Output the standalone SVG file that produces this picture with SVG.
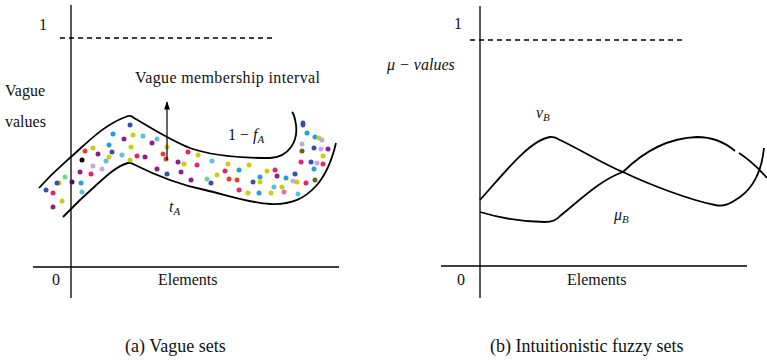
<svg xmlns="http://www.w3.org/2000/svg" width="767" height="363" viewBox="0 0 767 363" font-family="'Liberation Serif', 'DejaVu Serif', serif">
<style>
text{font-family:'Liberation Serif','DejaVu Serif',serif;fill:#111}
.t{font-size:16px}
.cap{font-size:18px}
.it{font-style:italic}
.ax{stroke:#000;stroke-width:1.3;fill:none}
.dash{stroke:#000;stroke-width:1.3;stroke-dasharray:5,4;fill:none}
.cv{stroke:#000;stroke-width:1.8;fill:none}
.b{fill:#3b4fa8}.c{fill:#1ea0d8}.y{fill:#cccc10}.l{fill:#5bc2e0}.p{fill:#8e1e8e}.r{fill:#e8402c}.m{fill:#e6246e}.k{fill:#000}.v{fill:#c3a8e0}.g{fill:#6ed490}.d{fill:#4a1050}.o{fill:#666614}.pk{fill:#e070a0}
</style>
<defs>
<marker id="ah" viewBox="0 0 10 10" refX="9" refY="5" markerWidth="7" markerHeight="7" orient="auto"><path d="M0,1.5 L10,5 L0,8.5 Z" fill="#000"/></marker>
</defs>

<g id="panel-a">
<g id="axes-a">
<line class="ax" x1="71" y1="5" x2="71" y2="298"/>
<line class="ax" x1="33" y1="267" x2="339" y2="267"/>
<line class="dash" x1="60" y1="38" x2="272" y2="38"/>
</g>
<g id="band">
<path class="cv" d="M39,188 C55,170 62,165 72,156 C90,140 105,124 128,116 C130,115.5 132,116 134,118 C155,130 170,140 190,148 C215,157 245,158 270,158 C290,157 298,140 296,125 C295,118 294,114 292,112"/>
<path class="cv" d="M63,217 C70,210 75,205 80,200 C100,182 115,166 128,163 C130,162.5 132,163 134,164.5 C155,175 180,185 205,190 C230,196 250,203 270,204 C292,205 305,198 316,186 C326,175 332,160 336,143"/>
</g>
<g id="dots">
<circle class="b" cx="130" cy="125" r="2.5"/>
<circle class="c" cx="113" cy="134" r="2.5"/>
<circle class="y" cx="133" cy="135" r="2.5"/>
<circle class="l" cx="143" cy="136" r="2.5"/>
<circle class="p" cx="124" cy="139" r="2.5"/>
<circle class="l" cx="157" cy="139" r="2.5"/>
<circle class="p" cx="152" cy="143" r="2.5"/>
<circle class="y" cx="167" cy="147" r="2.5"/>
<circle class="y" cx="93" cy="148" r="2.5"/>
<circle class="r" cx="85" cy="151" r="2.5"/>
<circle class="c" cx="109" cy="145" r="2.5"/>
<circle class="y" cx="131" cy="147" r="2.5"/>
<circle class="b" cx="112" cy="152" r="2.5"/>
<circle class="l" cx="122" cy="155" r="2.5"/>
<circle class="p" cx="98" cy="154" r="2.5"/>
<circle class="r" cx="163" cy="154" r="2.5"/>
<circle class="r" cx="166" cy="159" r="2.5"/>
<circle class="m" cx="137" cy="156" r="2.5"/>
<circle class="p" cx="145" cy="157" r="2.5"/>
<circle class="k" cx="82" cy="160" r="2.5"/>
<circle class="l" cx="106" cy="161" r="2.5"/>
<circle class="y" cx="109" cy="157" r="2.5"/>
<circle class="y" cx="130" cy="160" r="2.5"/>
<circle class="v" cx="93" cy="166" r="2.5"/>
<circle class="v" cx="102" cy="169" r="2.5"/>
<circle class="p" cx="80" cy="172" r="2.5"/>
<circle class="m" cx="91" cy="174" r="2.5"/>
<circle class="g" cx="65" cy="177" r="2.5"/>
<circle class="d" cx="72" cy="182" r="2.5"/>
<circle class="y" cx="59" cy="183" r="2.5"/>
<circle class="b" cx="57" cy="183" r="2.5"/>
<circle class="c" cx="81" cy="183" r="2.5"/>
<circle class="b" cx="46" cy="190" r="2.5"/>
<circle class="m" cx="53" cy="193" r="2.5"/>
<circle class="l" cx="82" cy="192" r="2.5"/>
<circle class="y" cx="62" cy="201" r="2.5"/>
<circle class="p" cx="53" cy="207" r="2.5"/>
<circle class="p" cx="157" cy="169" r="2.5"/>
<circle class="b" cx="167" cy="174" r="2.5"/>
<circle class="p" cx="181" cy="172" r="2.5"/>
<circle class="p" cx="178" cy="162" r="2.5"/>
<circle class="y" cx="184" cy="164" r="2.5"/>
<circle class="m" cx="188" cy="152" r="2.5"/>
<circle class="y" cx="198" cy="155" r="2.5"/>
<circle class="m" cx="197" cy="165" r="2.5"/>
<circle class="p" cx="191" cy="180" r="2.5"/>
<circle class="l" cx="212" cy="161" r="2.5"/>
<circle class="g" cx="207" cy="179" r="2.5"/>
<circle class="b" cx="211" cy="183" r="2.5"/>
<circle class="y" cx="217" cy="175" r="2.5"/>
<circle class="y" cx="228" cy="164" r="2.5"/>
<circle class="m" cx="225" cy="171" r="2.5"/>
<circle class="r" cx="229" cy="179" r="2.5"/>
<circle class="r" cx="237" cy="180" r="2.5"/>
<circle class="c" cx="239" cy="170" r="2.5"/>
<circle class="y" cx="249" cy="165" r="2.5"/>
<circle class="m" cx="239" cy="190" r="2.5"/>
<circle class="y" cx="248" cy="193" r="2.5"/>
<circle class="b" cx="253" cy="182" r="2.5"/>
<circle class="c" cx="259" cy="193" r="2.5"/>
<circle class="c" cx="260" cy="177" r="2.5"/>
<circle class="y" cx="260" cy="182" r="2.5"/>
<circle class="y" cx="267" cy="171" r="2.5"/>
<circle class="m" cx="275" cy="170" r="2.5"/>
<circle class="p" cx="277" cy="176" r="2.5"/>
<circle class="l" cx="274" cy="187" r="2.5"/>
<circle class="y" cx="271" cy="193" r="2.5"/>
<circle class="y" cx="282" cy="187" r="2.5"/>
<circle class="pk" cx="284" cy="192" r="2.5"/>
<circle class="c" cx="286" cy="178" r="2.5"/>
<circle class="b" cx="295" cy="174" r="2.5"/>
<circle class="v" cx="293" cy="181" r="2.5"/>
<circle class="y" cx="297" cy="182" r="2.5"/>
<circle class="l" cx="298" cy="194" r="2.5"/>
<circle class="m" cx="306" cy="183" r="2.5"/>
<ellipse class="b" cx="303" cy="124" rx="2.5" ry="3.4"/>
<circle class="c" cx="307" cy="133" r="2.5"/>
<circle class="c" cx="315" cy="137" r="2.5"/>
<circle class="y" cx="319" cy="138" r="2.5"/>
<circle class="v" cx="322" cy="140" r="2.5"/>
<circle class="v" cx="302" cy="144" r="2.5"/>
<circle class="b" cx="314" cy="148" r="2.5"/>
<circle class="v" cx="321" cy="149" r="2.5"/>
<circle class="p" cx="328" cy="149" r="2.5"/>
<circle class="o" cx="302" cy="151" r="2.5"/>
<circle class="y" cx="323" cy="156" r="2.5"/>
<circle class="m" cx="301" cy="162" r="2.5"/>
<circle class="b" cx="311" cy="162" r="2.5"/>
<circle class="v" cx="317" cy="163" r="2.5"/>
<circle class="m" cx="323" cy="164" r="2.5"/>
<circle class="c" cx="314" cy="169" r="2.5"/>
<circle class="o" cx="315" cy="180" r="2.5"/>
</g>
<g id="connectors-a">
<line x1="167" y1="160" x2="167" y2="102" stroke="#000" stroke-width="1.2" marker-end="url(#ah)"/>
</g>
<g id="labels-a">
<text class="t" x="39" y="30">1</text>
<text class="t" x="5" y="96">Vague</text>
<text class="t" x="5" y="127">values</text>
<text class="t" x="135" y="83" textLength="185">Vague membership interval</text>
<text class="t" x="228" y="140">1 − <tspan class="it">f</tspan><tspan class="it" font-size="11" dy="3">A</tspan></text>
<text class="t it" x="169" y="212">t<tspan font-size="11" dy="3">A</tspan></text>
<text class="t" x="52" y="285">0</text>
<text class="t" x="158" y="285">Elements</text>
<text class="cap" x="125" y="352">(a) Vague sets</text>
</g>
</g>

<g id="panel-b">
<g id="axes-b">
<line class="ax" x1="480" y1="6" x2="480" y2="298"/>
<line class="ax" x1="441" y1="266" x2="747" y2="266"/>
<line class="dash" x1="470" y1="40" x2="682" y2="40"/>
</g>
<g id="curves-b">
<path class="cv" d="M480,200 C505,172 530,140 550,137 C554,136.5 556,137.5 560,140 C585,152 605,165 623,172 C650,185 690,200 715,205 C724,207 730,204 740,197 C755,186 762,168 764,148"/>
<path class="cv" d="M480,212 C500,218 520,222 545,222 C551,222 556,221 560,216 C580,200 600,180 623,172 C645,150 670,138 697,137 C715,137 728,145 735,151"/>
<path class="cv" d="M739,153 C750,160 760,170 767,178"/>
</g>
<g id="labels-b">
<text class="t" x="454" y="29">1</text>
<text class="t it" x="387" y="70">μ − values</text>
<text class="t it" x="536" y="118">ν<tspan font-size="11" dy="3">B</tspan></text>
<text class="t it" x="614" y="220">μ<tspan font-size="11" dy="3">B</tspan></text>
<text class="t" x="457" y="285">0</text>
<text class="t" x="567" y="285">Elements</text>
<text class="cap" x="490" y="352">(b) Intuitionistic fuzzy sets</text>
</g>
</g>
</svg>
